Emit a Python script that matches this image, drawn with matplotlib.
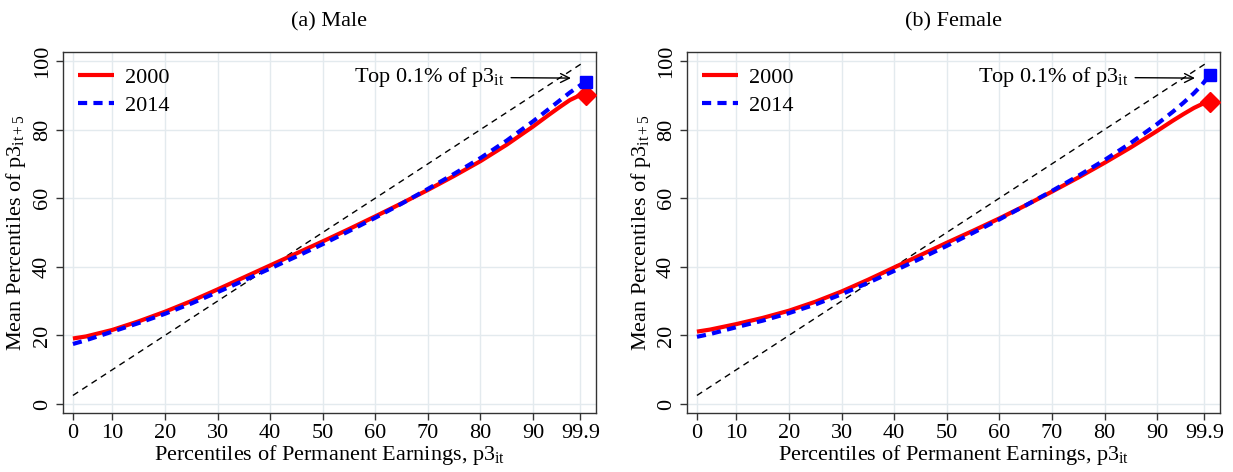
import matplotlib
matplotlib.use("Agg")
import matplotlib.pyplot as plt

plt.rcParams['font.family'] = ['Liberation Serif', 'DejaVu Serif']
plt.rcParams['mathtext.fontset'] = 'custom'
plt.rcParams['mathtext.rm'] = 'Liberation Serif'
plt.rcParams['mathtext.it'] = 'Liberation Serif:italic'

# ---- data ----
pct_pos = [2.5, 5, 10, 15, 20, 25, 30, 35, 40, 45, 50, 55, 60, 65, 70, 75,
           80, 85, 90, 93, 95, 97, 98.5, 100]

male_2000 = [19.1, 19.7, 21.6, 24.1, 26.9, 30.0, 33.4, 36.9, 40.4, 43.9, 47.4,
             51.0, 54.7, 58.5, 62.4, 66.5, 70.8, 75.6, 80.9, 84.3, 86.5, 88.6,
             89.7, 90.1]
male_2014 = [17.5, 18.6, 21.1, 23.6, 26.3, 29.3, 32.6, 36.0, 39.5, 43.0, 46.6,
             50.4, 54.3, 58.4, 62.7, 67.1, 71.7, 76.8, 82.4, 86.0, 88.4, 90.8,
             92.4, 94.0]
female_2000 = [21.1, 21.7, 23.3, 25.1, 27.2, 29.8, 32.8, 36.2, 39.8, 43.4, 47.0,
               50.5, 54.1, 57.9, 61.9, 66.0, 70.3, 74.8, 79.6, 82.6, 84.5, 86.3,
               87.4, 87.9]
female_2014 = [19.6, 20.4, 22.4, 24.3, 26.5, 29.0, 32.0, 35.3, 38.8, 42.4, 46.1,
               49.9, 53.8, 57.9, 62.1, 66.5, 71.1, 76.1, 81.6, 85.2, 87.8, 90.6,
               93.0, 95.9]

diag_x = [2.5, 99.7]
xtick_pos = [2.5, 10, 20, 30, 40, 50, 60, 70, 80, 90, 99]
xtick_labels = ['0', '10', '20', '30', '40', '50', '60', '70', '80', '90', '99.9']
ytick_vals = [0, 20, 40, 60, 80, 100]

panels = [("(a) Male", male_2000, male_2014),
          ("(b) Female", female_2000, female_2014)]

fig = plt.figure(figsize=(12.33, 4.72), dpi=100)
lefts = [0.0509, 0.557]
width = 0.4322
bottom = 0.1244
height = 0.8905 - 0.1244

FS = 16
for i, (title, y00, y14) in enumerate(panels):
    ax = fig.add_axes([lefts[i], bottom, width, height])
    ax.grid(True, color='#e3eaee', linewidth=1.0, zorder=0)
    ax.set_axisbelow(True)
    ax.plot(diag_x, diag_x, color='black', lw=1.0,
            linestyle=(0, (4.5, 3.5)), zorder=2)
    ax.plot(pct_pos, y00, color='#ff0000', lw=3.0, solid_capstyle='butt',
            solid_joinstyle='round', label='2000', zorder=3)
    ax.plot(pct_pos, y14, color='#0000ff', lw=3.0,
            linestyle=(0, (2.2, 1.5)), label='2014', zorder=4)
    ax.plot([pct_pos[-1]], [y00[-1]], marker='D', color='#ff0000',
            markersize=10, linestyle='none', zorder=5)
    ax.plot([pct_pos[-1]], [y14[-1]], marker='s', color='#0000ff',
            markersize=9, linestyle='none', zorder=6)

    ax.set_xlim(0.57, 101.9)
    ax.set_ylim(-2.7, 102.7)
    ax.set_xticks(xtick_pos)
    ax.set_xticklabels(xtick_labels, fontsize=FS)
    ax.set_yticks(ytick_vals)
    ax.set_yticklabels([str(v) for v in ytick_vals], fontsize=FS,
                       rotation=90, va='center')
    ax.tick_params(axis='both', direction='out', length=5, width=1,
                   color='#333333', pad=3)
    for sp in ax.spines.values():
        sp.set_color('#333333')
        sp.set_linewidth(1.0)

    ax.set_xlabel('Percentiles of Permanent Earnings, p3$_{\\mathrm{it}}$',
                  fontsize=FS, labelpad=0)
    ax.set_ylabel('Mean Percentiles of p3$_{\\mathrm{it+5}}$',
                  fontsize=FS, labelpad=3)
    ax.set_title(title, fontsize=16, pad=18)

    ax.annotate('Top 0.1% of p3$_{\\mathrm{it}}$', xy=(97.2, 95.0),
                xytext=(84.5, 95.3), ha='right', va='center', fontsize=FS,
                arrowprops=dict(arrowstyle='->', color='black', lw=1.0,
                                shrinkA=3, shrinkB=0))

    leg = ax.legend(loc='upper left', frameon=False, fontsize=FS,
                    handlelength=1.6, handletextpad=0.5,
                    borderaxespad=0.3, labelspacing=0.35)

fig.savefig('out.png', dpi=100)
